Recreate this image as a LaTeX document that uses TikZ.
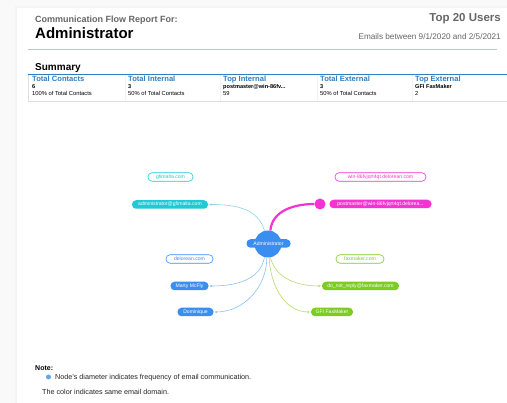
\documentclass[tikz,border=0pt]{standalone}
\usepackage{fontspec}
\setmainfont{Liberation Sans}
\usetikzlibrary{arrows.meta}
\definecolor{cyanc}{HTML}{1ECAD3}
\definecolor{bluec}{HTML}{3A8EF2}
\definecolor{magc}{HTML}{F433D2}
\definecolor{greenc}{HTML}{7DCC21}
\definecolor{hdrblue}{HTML}{2E7FC4}
\definecolor{titlegrey}{HTML}{666666}
\definecolor{edgeblue}{HTML}{8CC2F2}
\definecolor{edgecyan}{HTML}{8AD6E8}
\definecolor{edgegreen}{HTML}{B8DC6A}
\definecolor{rulegrey}{HTML}{B8C8D8}
\newcommand{\fs}[1]{\fontsize{#1}{#1}\selectfont}
\tikzset{
  pill/.style={rounded corners=4pt, minimum height=8.5pt, inner sep=0pt, font=\fs{5.1}},
  fillpill/.style={pill, fill=#1, text=white},
  linepill/.style={pill, draw=#1, line width=0.6pt, fill=white, text=#1},
  txt/.style={inner sep=0pt, anchor=base west},
  hdr/.style={txt, font=\bfseries\fs{7.6}, text=hdrblue},
  val/.style={txt, font=\bfseries\fs{5.6}},
  sub/.style={txt, font=\fs{5.8}},
  edge/.style={line width=0.6pt, -{Stealth[length=2.5pt,width=2.5pt]}, shorten >=1pt}
}
\begin{document}
\begin{tikzpicture}[x=1pt,y=1pt]
\useasboundingbox (0,0) rectangle (507,-403);
\fill[gray!5] (0,0) rectangle (507,-403);
\fill[gray!9] (15,-6) rectangle (507,-403);
\fill[white] (17,-8) rectangle (507,-403);

% header
\node[txt, font=\bfseries\fs{9}, text=titlegrey] (t1) at (35,-23) {Communication Flow Report For:};
\node[txt, font=\bfseries\fs{15}] (t2) at (35,-39) {Administrator};
\node[inner sep=0pt, anchor=base east, font=\bfseries\fs{11.5}, text=titlegrey] (t3) at (501,-22) {Top 20 Users};
\node[inner sep=0pt, anchor=base east, font=\fs{8.2}, text=titlegrey] (t4) at (501,-40) {Emails between 9/1/2020 and 2/5/2021};
\draw[rulegrey, line width=0.8pt] (28,-49) -- (497,-49);

% summary
\node[txt, font=\bfseries\fs{10}] (sum) at (35,-71) {Summary};
\draw[gray!25, line width=0.4pt] (28,-74) -- (28,-101) -- (507,-101);
\foreach \x in {125,220,317,412} \draw[gray!10, line width=0.4pt] (\x,-74) -- (\x,-101);
\draw[hdrblue, line width=0.9pt] (28,-74) -- (507,-74);
\node[hdr] (h1) at (32,-82) {Total Contacts};
\node[hdr] (h2) at (128,-82) {Total Internal};
\node[hdr] (h3) at (223,-82) {Top Internal};
\node[hdr] (h4) at (320,-82) {Total External};
\node[hdr] (h5) at (415,-82) {Top External};
\node[val] (v1) at (32,-89) {6};
\node[val] (v2) at (128,-89) {3};
\node[val] (v3) at (223,-89) {postmaster@win-86fv...};
\node[val] (v4) at (320,-89) {3};
\node[val] (v5) at (415,-89) {GFI FaxMaker};
\node[sub] (s1) at (32,-96) {100\% of Total Contacts};
\node[sub] (s2) at (128,-96) {50\% of Total Contacts};
\node[sub] (s3) at (223,-96) {59};
\node[sub] (s4) at (320,-96) {50\% of Total Contacts};
\node[sub] (s5) at (415,-96) {2};

% mind map
\node[circle, fill=bluec, minimum size=27pt, inner sep=0pt] (admc) at (268,-244) {};

\node[linepill=cyanc, minimum width=45pt] (gfi) at (170.5,-177) {gfimalta.com};
\node[fillpill=cyanc, minimum width=76pt] (agfi) at (170,-204.5) {administrator@gfimalta.com};
\node[linepill=magc, minimum width=91pt] (win) at (380.5,-177) {win-86fvjqrt4qt.delorean.com};
\node[circle, fill=magc, minimum size=11pt, inner sep=0pt] (mdot) at (320,-204) {};
\node[fillpill=magc, minimum width=102pt] (pm) at (380.5,-204) {postmaster@win-86fvjqrt4qt.delorea...};
\node[linepill=bluec, minimum width=47pt] (del) at (189.5,-259) {delorean.com};
\node[fillpill=bluec, minimum width=38pt] (mm) at (189.5,-286) {Marty McFly};
\node[fillpill=bluec, minimum width=36pt] (dom) at (195.5,-312) {Dominique};
\node[linepill=greenc, minimum width=48pt] (fax) at (360,-259) {faxmaker.com};
\node[fillpill=greenc, minimum width=77pt] (dnr) at (360.5,-286) {do\_not\_reply@faxmaker.com};
\node[fillpill=greenc, minimum width=42pt] (gfx) at (332,-312) {GFI FaxMaker};

\draw[edge, edgecyan] (admc.105) to[out=105, in=0] (agfi.east);
\draw[magc, line width=2.2pt] (admc.80) to[out=85, in=180] (mdot.west);
\draw[edge, edgeblue] (admc.255) to[out=-100, in=0] (mm.east);
\draw[edge, edgeblue] (admc.265) to[out=-90, in=0] (dom.east);
\draw[edge, edgegreen] (admc.280) to[out=-75, in=180] (dnr.west);
\draw[edge, edgegreen] (admc.275) to[out=-88, in=180] (gfx.west);
\node[fillpill=bluec, minimum width=44pt] (adm) at (268.5,-243.5) {Administrator};

% note
\node[txt, font=\bfseries\fs{7}] (note) at (35,-371) {Note:};
\node[circle, fill=bluec!80, minimum size=5pt, inner sep=0pt] (ndot) at (48.5,-377) {};
\node[txt, font=\fs{7.2}, text=black!85] (n1) at (55,-379.5) {Node's diameter indicates frequency of email communication.};
\node[txt, font=\fs{7.2}, text=black!85] (n2) at (42,-394.5) {The color indicates same email domain.};
\end{tikzpicture}
\end{document}
